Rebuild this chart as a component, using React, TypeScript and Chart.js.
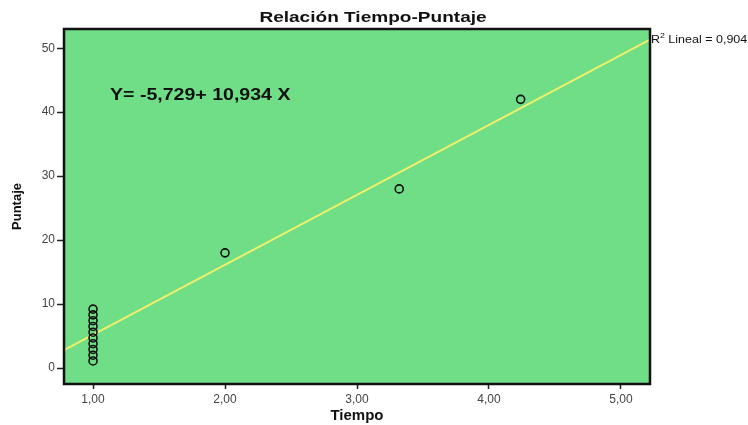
import React, { useEffect, useRef } from "react";
import { Chart, registerables } from "chart.js";

Chart.register(...registerables);

const tiempo = [1, 1, 1, 1, 1, 1, 1, 1, 1, 1, 2, 3.32, 4.24];
const puntaje = [1.1, 2, 2.9, 3.8, 4.7, 5.6, 6.5, 7.4, 8.3, 9.2, 18, 28, 42];
const xTicks = [1, 2, 3, 4, 5];
const yTicks = [0, 10, 20, 30, 40, 50];
const intercept = -5.729;
const slope = 10.934;
const xRange = [0.78, 5.22];
const yRange = [-2.5, 53];

const GREEN = "#70dd87";
const YELLOW = "#eef06a";
const FAM = "Arial, 'Liberation Sans', sans-serif";

function stretchedText(ctx: any, text: string, x: number, y: number, sx: number, align: string) {
  ctx.save();
  ctx.translate(x, y);
  ctx.scale(sx, 1);
  ctx.textAlign = align;
  ctx.fillText(text, 0, 0);
  ctx.restore();
}

const decor = {
  id: "decor",
  beforeDatasetsDraw(chart: any) {
    const { ctx, chartArea: a } = chart;
    ctx.save();
    ctx.fillStyle = GREEN;
    ctx.fillRect(a.left, a.top, a.right - a.left, a.bottom - a.top);
    ctx.restore();
  },
  afterDatasetsDraw(chart: any) {
    const { ctx, chartArea: a } = chart;
    ctx.save();
    ctx.strokeStyle = "#111";
    ctx.lineWidth = 2.5;
    ctx.strokeRect(a.left, a.top, a.right - a.left, a.bottom - a.top);
    ctx.fillStyle = "#111";
    ctx.textBaseline = "middle";
    ctx.font = `bold 15px ${FAM}`;
    stretchedText(ctx, "Relación Tiempo-Puntaje", 373, 18, 1.27, "center");
    ctx.font = `bold 17px ${FAM}`;
    stretchedText(ctx, "Y= -5,729+ 10,934 X", 110, 95, 1.15, "left");
    // R2 label
    ctx.textBaseline = "alphabetic";
    const sx = 1.25;
    let x = a.right + 1;
    ctx.font = `10px ${FAM}`;
    stretchedText(ctx, "R", x, 43, sx, "left");
    x += ctx.measureText("R").width * sx;
    ctx.font = `7px ${FAM}`;
    stretchedText(ctx, "2", x, 38, sx, "left");
    x += ctx.measureText("2").width * sx;
    ctx.font = `10px ${FAM}`;
    stretchedText(ctx, " Lineal = 0,904", x, 43, sx, "left");
    ctx.restore();
  },
};

export default function App() {
  const ref = useRef<HTMLCanvasElement>(null);
  useEffect(() => {
    if (!ref.current) return;
    const pts = tiempo.map((t, i) => ({ x: t, y: puntaje[i] }));
    const line = xRange.map((t) => ({ x: t, y: intercept + slope * t }));
    const tickFont = { family: FAM, size: 12 };
    const titleFont = { family: FAM, size: 13, weight: "bold" as const };
    const chart = new Chart(ref.current, {
      type: "scatter",
      data: {
        datasets: [
          {
            type: "line",
            data: line,
            borderColor: YELLOW,
            borderWidth: 2,
            pointRadius: 0,
            order: 2,
          } as any,
          {
            data: pts,
            pointRadius: 4,
            pointBorderWidth: 1.6,
            pointBorderColor: "#111",
            pointBackgroundColor: "rgba(0,0,0,0)",
            order: 1,
          },
        ],
      },
      options: {
        animation: false,
        responsive: false,
        devicePixelRatio: 1,
        layout: { padding: { top: 29, right: 98, left: 0, bottom: 0 } },
        plugins: { legend: { display: false }, tooltip: { enabled: false }, title: { display: false } },
        scales: {
          x: {
            type: "linear",
            min: xRange[0],
            max: xRange[1],
            afterBuildTicks: (s: any) => {
              s.ticks = xTicks.map((v) => ({ value: v }));
            },
            afterFit: (s: any) => {
              s.height = 41;
            },
            ticks: {
              font: tickFont,
              color: "#444",
              padding: 3,
              callback: (v: any) => Number(v).toFixed(2).replace(".", ","),
            },
            grid: { drawOnChartArea: false, drawTicks: true, tickLength: 5, color: "#222", tickWidth: 1.5 },
            border: { display: false },
            title: { display: true, text: "Tiempo", font: { family: FAM, size: 15, weight: "bold" as const }, color: "#111", padding: { top: 0, bottom: 0 } },
          },
          y: {
            type: "linear",
            min: yRange[0],
            max: yRange[1],
            afterBuildTicks: (s: any) => {
              s.ticks = yTicks.map((v) => ({ value: v }));
            },
            afterFit: (s: any) => {
              s.width = 64;
            },
            ticks: { font: tickFont, color: "#444", padding: 2 },
            grid: { drawOnChartArea: false, drawTicks: true, tickLength: 7, color: "#222", tickWidth: 1.5 },
            border: { display: false },
            title: { display: true, text: "Puntaje", font: titleFont, color: "#111", padding: { top: 10, bottom: 0 } },
          },
        },
      },
      plugins: [decor],
    });
    return () => chart.destroy();
  }, []);
  return (
    <div style={{ position: "fixed", left: 0, top: 0, width: 748, height: 425, background: "#fff" }}>
      <canvas ref={ref} width={748} height={425} />
    </div>
  );
}
